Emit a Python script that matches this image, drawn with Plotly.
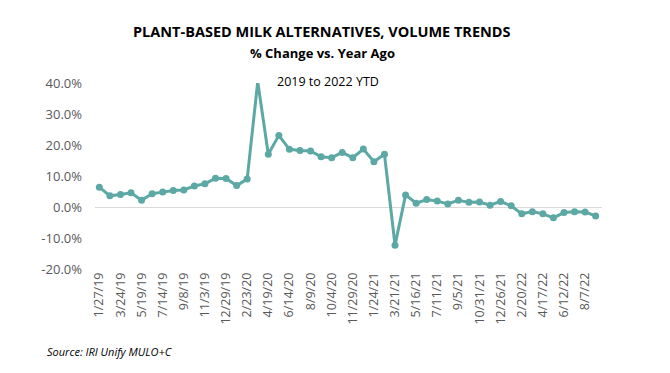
import plotly.graph_objects as go

dates = ["1/27/19", "2/24/19", "3/24/19", "4/21/19", "5/19/19", "6/16/19", "7/14/19", "8/11/19",
         "9/8/19", "10/6/19", "11/3/19", "12/1/19", "12/29/19", "1/26/20", "2/23/20", "3/22/20",
         "4/19/20", "5/17/20", "6/14/20", "7/12/20", "8/9/20", "9/6/20", "10/4/20", "11/1/20",
         "11/29/20", "12/27/20", "1/24/21", "2/21/21", "3/21/21", "4/18/21", "5/16/21", "6/13/21",
         "7/11/21", "8/8/21", "9/5/21", "10/3/21", "10/31/21", "11/28/21", "12/26/21", "1/23/22",
         "2/20/22", "3/20/22", "4/17/22", "5/15/22", "6/12/22", "7/10/22", "8/7/22", "9/4/22"]

volume_change = [6.4, 3.6, 4.0, 4.6, 2.2, 4.3, 4.8, 5.3, 5.5, 6.8, 7.5, 9.3, 9.2, 6.9, 9.0, 40.4,
                 17.0, 23.1, 18.6, 18.2, 18.1, 16.2, 15.9, 17.6, 15.9, 18.7, 14.6, 17.0, -12.3, 3.9,
                 1.2, 2.4, 1.9, 1.0, 2.2, 1.5, 1.6, 0.6, 1.8, 0.4, -2.2, -1.5, -2.2, -3.5, -1.8,
                 -1.5, -1.6, -2.9]

tick_labels = dates[::2]
y_ticks = [-20, -10, 0, 10, 20, 30, 40]
y_tick_text = ["-20.0%", "-10.0%", "0.0%", "10.0%", "20.0%", "30.0%", "40.0%"]

fig = go.Figure()
fig.add_trace(go.Scatter(
    x=dates, y=volume_change, mode="lines+markers",
    line=dict(color="#5ca8a5", width=3),
    marker=dict(color="#5ca8a5", size=7),
    cliponaxis=False,
    showlegend=False,
))

fig.update_layout(
    width=662, height=365,
    margin=dict(l=87, r=68, t=75, b=104),
    paper_bgcolor="white", plot_bgcolor="white",
    font=dict(family="Open Sans", color="#595959"),
    xaxis=dict(type="category", tickmode="array", tickvals=tick_labels, ticktext=tick_labels,
               tickangle=-90, tickfont=dict(size=12.5, color="#595959"),
               range=[-0.41, 47.6], showgrid=False, zeroline=False, showline=False, ticks=""),
    yaxis=dict(tickmode="array", tickvals=y_ticks, ticktext=y_tick_text, range=[-20, 40],
               tickfont=dict(size=13, color="#595959"), showgrid=False,
               zeroline=True, zerolinecolor="#d9d9d9", zerolinewidth=1, ticks="",
               ticklabelstandoff=12),
    annotations=[
        dict(text="<b>PLANT-BASED MILK ALTERNATIVES, VOLUME TRENDS</b>", xref="paper", yref="paper",
             x=(322 - 95) / 507, y=1.277, showarrow=False, font=dict(size=14.5, color="black"),
             xanchor="center", yanchor="middle"),
        dict(text="<b>% Change vs. Year Ago</b>", xref="paper", yref="paper",
             x=(322 - 95) / 507, y=1.163, showarrow=False, font=dict(size=13, color="black"),
             xanchor="center", yanchor="middle"),
        dict(text="2019 to 2022 YTD", xref="paper", yref="paper",
             x=(328 - 95) / 507, y=1.007, showarrow=False, font=dict(size=12.5, color="black"),
             xanchor="center", yanchor="middle"),
        dict(text="<i>Source: IRI Unify MULO+C</i>", xref="paper", yref="paper",
             x=(45 - 95) / 507, y=-0.445, showarrow=False, font=dict(size=11, color="black"),
             xanchor="left", yanchor="middle"),
    ],
)

fig.write_html("out.html")
